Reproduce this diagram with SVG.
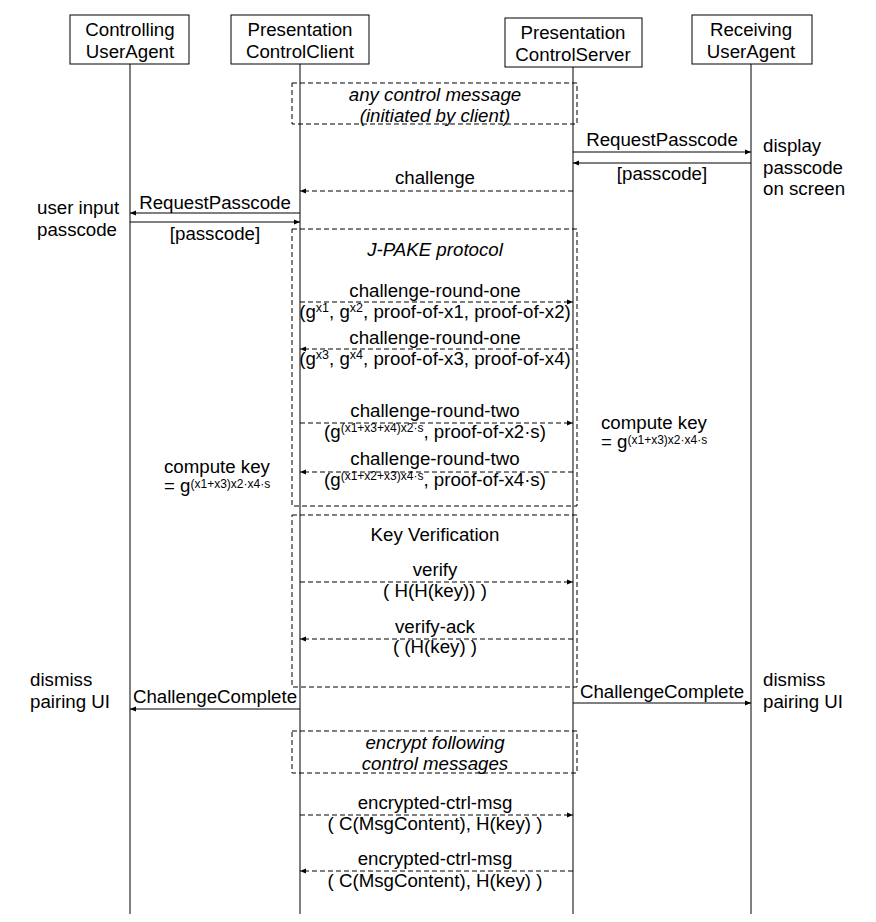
<svg xmlns="http://www.w3.org/2000/svg" width="876" height="922" viewBox="0 0 876 922">
<defs>
<marker id="ah" viewBox="0 0 10 10" refX="10" refY="5" markerWidth="8" markerHeight="6" markerUnits="userSpaceOnUse" orient="auto">
<path d="M0,1 L10,5 L0,9 z" fill="#000"/>
</marker>
</defs>
<style>
text{font-family:"Liberation Sans",Arial,sans-serif;font-size:18.7px;fill:#000}
.c{text-anchor:middle}
.i{font-style:italic}
.sup{font-size:12.5px}
.sup2{font-size:12px}
.box{fill:#fff;stroke:#000;stroke-width:1}
.life{stroke:#000;stroke-width:1}
.frame{fill:none;stroke:#000;stroke-width:1;stroke-dasharray:5,3}
.m{stroke:#000;stroke-width:1;fill:none;marker-end:url(#ah)}
.d{stroke-dasharray:5,3}
</style>
<rect width="876" height="922" fill="#fff"/>
<g id="lifelines">
<line class="life" x1="130" y1="64" x2="130" y2="914"/>
<line class="life" x1="300" y1="64" x2="300" y2="914"/>
<line class="life" x1="573" y1="67" x2="573" y2="914"/>
<line class="life" x1="751" y1="64" x2="751" y2="914"/>
</g>
<g id="controllingUA">
<rect class="box" x="70" y="15" width="119" height="49"/>
<text class="c" x="130" y="36">Controlling</text>
<text class="c" x="130" y="58">UserAgent</text>
</g>
<g id="pcClient">
<rect class="box" x="231" y="15" width="138" height="49"/>
<text class="c" x="300" y="36">Presentation</text>
<text class="c" x="300" y="58">ControlClient</text>
</g>
<g id="pcServer">
<rect class="box" x="505" y="18" width="137" height="49"/>
<text class="c" x="573" y="39">Presentation</text>
<text class="c" x="573" y="61">ControlServer</text>
</g>
<g id="receivingUA">
<rect class="box" x="692" y="15" width="120" height="49"/>
<text class="c" x="751" y="36">Receiving</text>
<text class="c" x="751" y="58">UserAgent</text>
</g>
<g id="frame-any">
<rect class="frame" x="292" y="83" width="285" height="41"/>
<text class="c i" x="435" y="101">any control message</text>
<text class="c i" x="435" y="122">(initiated by client)</text>
</g>
<g id="frame-jpake">
<rect class="frame" x="292" y="229" width="285" height="277"/>
<text class="c i" x="435" y="256">J-PAKE protocol</text>
</g>
<g id="frame-kv">
<rect class="frame" x="292" y="515" width="285" height="172"/>
<text class="c" x="435" y="541">Key Verification</text>
</g>
<g id="frame-enc">
<rect class="frame" x="292" y="731" width="285" height="42"/>
<text class="c i" x="435" y="749">encrypt following</text>
<text class="c i" x="435" y="770">control messages</text>
</g>
<g id="notes">
<text x="763" y="152">display</text>
<text x="763" y="174">passcode</text>
<text x="763" y="195">on screen</text>
<text x="37" y="214">user input</text>
<text x="37" y="236">passcode</text>
<text x="601" y="429">compute key</text>
<text x="601" y="448">= g<tspan class="sup2" dy="-4">(x1+x3)x2·x4·s</tspan></text>
<text x="164" y="473">compute key</text>
<text x="164" y="492">= g<tspan class="sup2" dy="-4">(x1+x3)x2·x4·s</tspan></text>
<text x="30" y="686">dismiss</text>
<text x="30" y="708">pairing UI</text>
<text x="763" y="686">dismiss</text>
<text x="763" y="708">pairing UI</text>
</g>
<g id="connectors">
<line class="m" x1="573" y1="152" x2="751" y2="152"/>
<text class="c" x="662" y="146">RequestPasscode</text>
<line class="m" x1="751" y1="163" x2="573" y2="163"/>
<text class="c" x="662" y="180">[passcode]</text>
<line class="m d" x1="573" y1="191" x2="300" y2="191"/>
<text class="c" x="435" y="184">challenge</text>
<line class="m" x1="300" y1="213" x2="130" y2="213"/>
<text class="c" x="215" y="209">RequestPasscode</text>
<line class="m" x1="130" y1="222" x2="300" y2="222"/>
<text class="c" x="215" y="240">[passcode]</text>
<line class="m d" x1="300" y1="302" x2="573" y2="302"/>
<text class="c" x="435" y="297">challenge-round-one</text>
<text class="c" x="435" y="318">(g<tspan class="sup" dy="-6">x1</tspan><tspan dy="6">, g</tspan><tspan class="sup" dy="-6">x2</tspan><tspan dy="6">, proof-of-x1, proof-of-x2)</tspan></text>
<line class="m d" x1="573" y1="349" x2="300" y2="349"/>
<text class="c" x="435" y="344">challenge-round-one</text>
<text class="c" x="435" y="365">(g<tspan class="sup" dy="-6">x3</tspan><tspan dy="6">, g</tspan><tspan class="sup" dy="-6">x4</tspan><tspan dy="6">, proof-of-x3, proof-of-x4)</tspan></text>
<line class="m d" x1="300" y1="423" x2="573" y2="423"/>
<text class="c" x="435" y="417">challenge-round-two</text>
<text class="c" x="435" y="438">(g<tspan class="sup2" dy="-6">(x1+x3+x4)x2·s</tspan><tspan dy="6">, proof-of-x2·s)</tspan></text>
<line class="m d" x1="573" y1="472" x2="300" y2="472"/>
<text class="c" x="435" y="465">challenge-round-two</text>
<text class="c" x="435" y="486">(g<tspan class="sup2" dy="-6">(x1+x2+x3)x4·s</tspan><tspan dy="6">, proof-of-x4·s)</tspan></text>
<line class="m d" x1="300" y1="582" x2="573" y2="582"/>
<text class="c" x="435" y="576">verify</text>
<text class="c" x="435" y="597">( H(H(key)) )</text>
<line class="m d" x1="573" y1="639" x2="300" y2="639"/>
<text class="c" x="435" y="633">verify-ack</text>
<text class="c" x="435" y="653">( (H(key) )</text>
<line class="m" x1="300" y1="709" x2="130" y2="709"/>
<text class="c" x="215" y="703">ChallengeComplete</text>
<line class="m" x1="573" y1="703" x2="751" y2="703"/>
<text class="c" x="662" y="698">ChallengeComplete</text>
<line class="m d" x1="300" y1="815" x2="573" y2="815"/>
<text class="c" x="435" y="809">encrypted-ctrl-msg</text>
<text class="c" x="435" y="830">( C(MsgContent), H(key) )</text>
<line class="m d" x1="573" y1="871" x2="300" y2="871"/>
<text class="c" x="435" y="865">encrypted-ctrl-msg</text>
<text class="c" x="435" y="887">( C(MsgContent), H(key) )</text>
</g>
</svg>
